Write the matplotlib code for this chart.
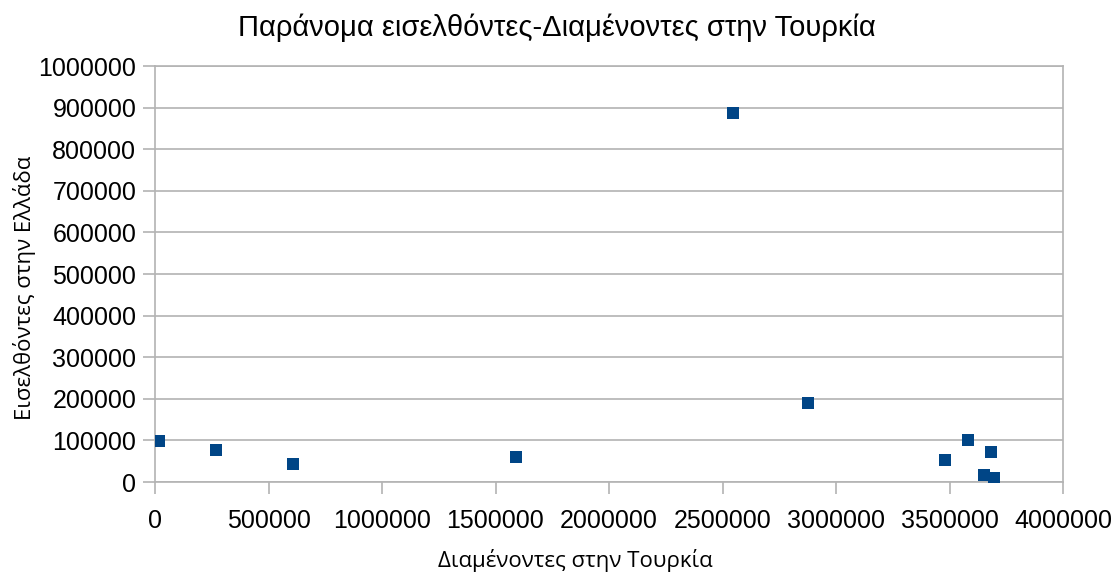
import matplotlib
matplotlib.use("Agg")
import matplotlib.pyplot as plt
from matplotlib.ticker import MultipleLocator, FuncFormatter

plt.rcParams['font.family'] = ['Liberation Sans', 'DejaVu Sans']

x_turkey = [16000, 269000, 610000, 1589000, 2545000, 2876000, 3481000, 3581000, 3682000, 3652000, 3697000]
y_greece = [99000, 76000, 42500, 60000, 886000, 191000, 52000, 100000, 72000, 16000, 8500]

title = "Παράνομα εισελθόντες-Διαμένοντες στην Τουρκία"
xlabel = "Διαμένοντες στην Τουρκία"
ylabel = "Εισελθόντες στην Ελλάδα"

fig = plt.figure(figsize=(11.14, 5.73), dpi=100)
ax = fig.add_axes([155/1114, 1-482/573, (1063-155)/1114, (482-66)/573])

grid_c = '#b3b3b3'
ax.scatter(x_turkey, y_greece, marker='s', s=78, color='#004586', zorder=3, linewidths=0)

ax.set_xlim(0, 4000000)
ax.set_ylim(0, 1000000)
ax.xaxis.set_major_locator(MultipleLocator(500000))
ax.yaxis.set_major_locator(MultipleLocator(100000))
fmt = FuncFormatter(lambda v, p: f"{int(round(v))}")
ax.xaxis.set_major_formatter(fmt)
ax.yaxis.set_major_formatter(fmt)
ax.yaxis.grid(True, color=grid_c, linewidth=1.2)
ax.set_axisbelow(True)
for s in ax.spines.values():
    s.set_color(grid_c)
    s.set_linewidth(1.2)
ax.tick_params(axis='both', colors=grid_c, labelcolor='black', labelsize=18, length=8.5, width=1.2, direction='out')
ax.tick_params(axis='x', pad=11)
ax.tick_params(axis='y', pad=5)

fig.text(557/1114, 1-28/573, title, ha='center', va='center', fontsize=21)
fig.text(575/1114, 1-561/573, xlabel, ha='center', va='center', fontsize=16, family=['Open Sans', 'DejaVu Sans'])
fig.text(25/1114, 1-288/573, ylabel, ha='center', va='center', fontsize=16, rotation=90, family=['Open Sans', 'DejaVu Sans'])

fig.savefig("out.png", dpi=100)
